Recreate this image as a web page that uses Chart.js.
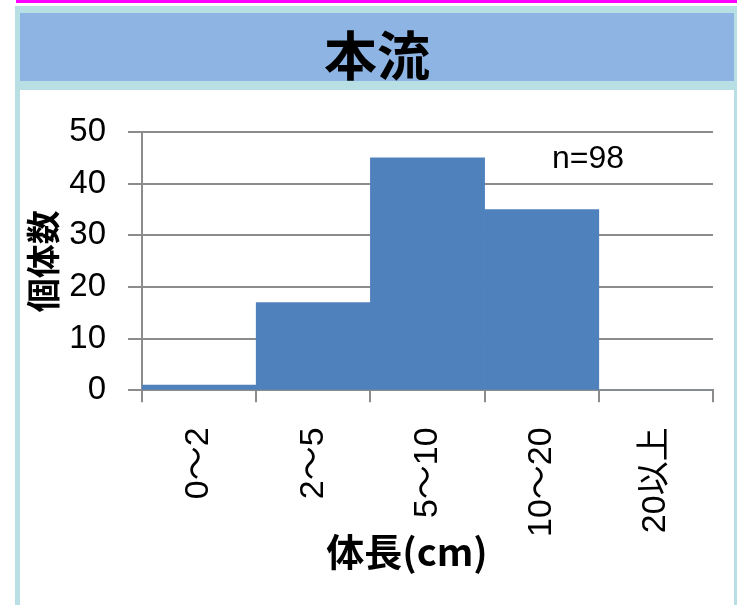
<!DOCTYPE html>
<html>
<head>
<meta charset="utf-8">
<script src="https://cdn.jsdelivr.net/npm/chart.js@4"></script>
<style>
  html, body { margin: 0; padding: 0; background: #ffffff; }
  body { width: 737px; height: 605px; position: relative; overflow: hidden; }
  #magenta { position: absolute; left: 16px; top: 0; width: 721px; height: 3px; background: #ff00ff; }
  #frame { position: absolute; left: 15px; top: 6px; width: 722px; height: 599px; background: #b8dfe4; }
  #header { position: absolute; left: 20px; top: 13px; width: 714px; height: 68px; background: #8eb4e3; overflow: visible; }
  #header span { position: absolute; left: 0; width: 714px; top: 14px; text-align: center; font-family: 'Noto Sans CJK JP', sans-serif; font-weight: 700; font-size: 53px; line-height: 53px; color: #000; }
  #panel { position: absolute; left: 20px; top: 90px; width: 714px; height: 515px; background: #ffffff; }
  #wrap { position: absolute; left: 0; top: 0; width: 714px; height: 515px; }
  #note { position: absolute; left: 532px; top: 51px; font-family: 'Liberation Sans', Arial, sans-serif; font-size: 32px; line-height: 32px; color: #000; }
  #xtitle { position: absolute; left: 280px; width: 214px; top: 441px; text-align: center; font-family: 'Noto Sans CJK JP', sans-serif; font-weight: 700; font-size: 38px; line-height: 38px; color: #000; }
</style>
</head>
<body>
<div id="magenta"></div>
<div id="frame"></div>
<div id="header"><span>本流</span></div>
<div id="panel">
  <div id="wrap"><canvas id="c"></canvas></div>
  <div id="note">n=98</div>
  <div id="xtitle">体長(cm)</div>
</div>
<script>
const categories = ['0～2', '2～5', '5～10', '10～20', '20以上'];
const counts = [1, 17, 45, 35, 0];
const yTickValues = [0, 10, 20, 30, 40, 50];
const yAxisTitle = '個体数';

const gridGray = '#8c8c8c';
const tickFont = "'Liberation Sans', Arial, 'Noto Sans CJK JP', sans-serif";

new Chart(document.getElementById('c'), {
  type: 'bar',
  data: {
    labels: categories,
    datasets: [{
      data: counts,
      backgroundColor: '#4f81bd',
      borderWidth: 0,
      barPercentage: 1.0,
      categoryPercentage: 1.0
    }]
  },
  options: {
    responsive: true,
    maintainAspectRatio: false,
    animation: false,
    layout: { padding: { left: 3, right: 21, top: 42, bottom: 43 } },
    plugins: { legend: { display: false }, tooltip: { enabled: false } },
    scales: {
      x: {
        offset: true,
        afterFit: (axis) => { axis.paddingLeft = 0; axis.paddingRight = 0; },
        grid: { offset: true, drawOnChartArea: false, drawTicks: true, tickLength: 12, color: gridGray, lineWidth: 2 },
        border: { display: true, color: gridGray, width: 2 },
        ticks: { minRotation: 90, maxRotation: 90, autoSkip: false, padding: 25, color: '#000', font: { family: tickFont, size: 34 } }
      },
      y: {
        min: yTickValues[0],
        max: yTickValues[yTickValues.length - 1],
        afterBuildTicks: (axis) => { axis.ticks = yTickValues.map(v => ({ value: v })); },
        afterFit: (axis) => { axis.width = 119; },
        grid: { color: gridGray, lineWidth: 2, drawTicks: true, tickLength: 14 },
        border: { display: true, color: gridGray, width: 2 },
        ticks: { padding: 22, color: '#000', font: { family: tickFont, size: 33 } },
        title: { display: true, text: yAxisTitle, color: '#000', padding: { top: 0, bottom: 8 }, font: { family: "'Noto Sans CJK JP', sans-serif", weight: 'bold', size: 34 } }
      }
    }
  }
});
</script>
</body>
</html>
